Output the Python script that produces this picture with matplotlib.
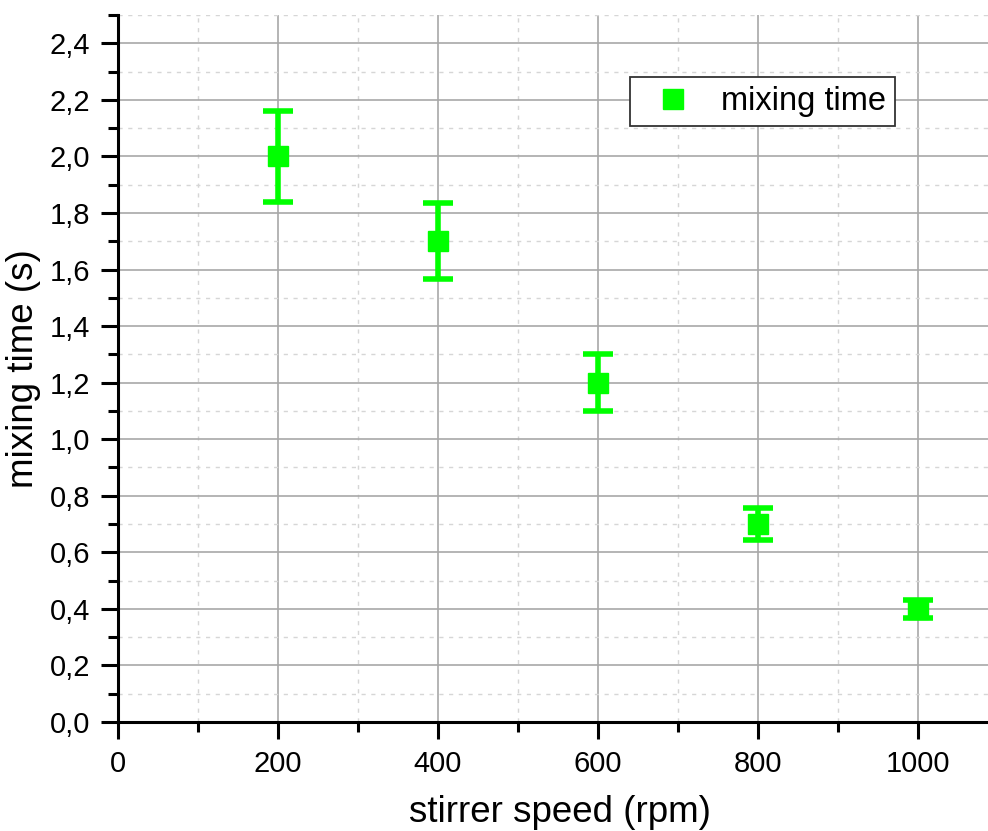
import matplotlib
matplotlib.use("Agg")
import matplotlib.pyplot as plt
from matplotlib.lines import Line2D
from matplotlib.ticker import MultipleLocator, FuncFormatter

# data
speed = [200, 400, 600, 800, 1000]
mixTime = [2.0, 1.7, 1.2, 0.7, 0.4]
mixErr = [0.16, 0.135, 0.1, 0.057, 0.032]

GREEN = "#00FF00"
plt.rcParams['font.family'] = ['Liberation Sans', 'DejaVu Sans']

fig = plt.figure(figsize=(9.88, 8.31), dpi=100)
ax = fig.add_axes([118/988, 109/831, 870/988, 707/831])

ax.errorbar(speed, mixTime, yerr=mixErr, fmt='s', color=GREEN, ecolor=GREEN,
            markersize=14, elinewidth=4, capsize=11, capthick=4, zorder=5)

ax.set_xlim(0, 1087.5)
ax.set_ylim(0, 2.5)
ax.xaxis.set_major_locator(MultipleLocator(200))
ax.xaxis.set_minor_locator(MultipleLocator(100))
ax.yaxis.set_major_locator(MultipleLocator(0.2))
ax.yaxis.set_minor_locator(MultipleLocator(0.1))
ax.yaxis.set_major_formatter(FuncFormatter(lambda v, p: ("%.1f" % v).replace(".", ",")))

ax.grid(which='major', color='#a8a8a8', linewidth=1.2, linestyle='-')
ax.grid(which='minor', color='#d6d6d6', linewidth=1.0, linestyle=(0, (3, 4)))
ax.set_axisbelow(True)

for s in ['top', 'right']:
    ax.spines[s].set_visible(False)
for s in ['left', 'bottom']:
    ax.spines[s].set_linewidth(2.2)

ax.tick_params(which='major', direction='out', length=12, width=2.2, labelsize=21, pad=8)
ax.tick_params(which='minor', direction='out', length=7, width=2.2)

# x label sits a bit right of the axes centre in the original
ax.set_xlabel("stirrer speed (rpm)", fontsize=26.5)
ax.xaxis.label.set_verticalalignment('top')
ax.xaxis.set_label_coords(442/870, -73/707)
ax.set_ylabel("mixing time (s)", fontsize=26.5, labelpad=6)

handle = Line2D([], [], marker='s', color=GREEN, linestyle='none', markersize=14)
leg = ax.legend([handle], ["mixing time"], loc='upper left',
                bbox_to_anchor=(512/870, 645/707), borderaxespad=0,
                fontsize=23.5, frameon=True, fancybox=False, edgecolor='#333333',
                framealpha=1, handlelength=2.1, handletextpad=0.4,
                borderpad=0.28, numpoints=1)
leg.get_frame().set_linewidth(1.3)

fig.savefig("out.png", dpi=100)
